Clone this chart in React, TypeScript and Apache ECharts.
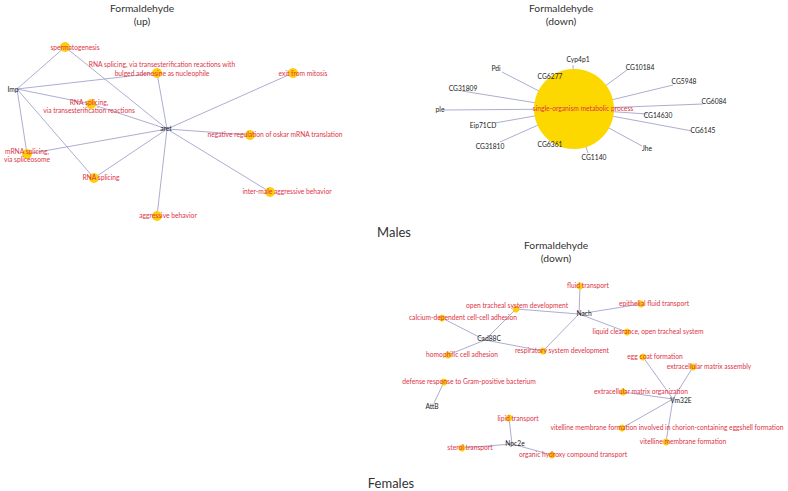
import React, { useEffect, useRef } from "react";
import * as echarts from "echarts";

// ---- data ----
// node: [id, label, kind, x, y, labelX, labelY]
type N = [string, string, string, number, number, number, number];

const MALES_UP_NODES: N[] = [
  ["Imp", "Imp", "gene", 17, 89, 13, 89],
  ["aret", "aret", "gene", 167, 129, 166, 128],
  ["sperm", "spermatogenesis", "term", 65, 47, 75, 47],
  ["bulged", "RNA splicing, via transesterification reactions with\nbulged adenosine as nucleophile", "term", 157, 73, 162, 68.5],
  ["exit", "exit from mitosis", "term", 293, 73, 303, 73],
  ["trans", "RNA splicing,\nvia transesterification reactions", "term", 91, 104, 89, 106],
  ["oskar", "negative regulation of oskar mRNA translation", "term", 250, 135, 275, 134],
  ["mrna", "mRNA splicing,\nvia spliceosome", "term", 27, 154, 27, 155],
  ["rnasp", "RNA splicing", "term", 94, 178, 101, 177],
  ["intermale", "inter-male aggressive behavior", "term", 270, 192, 287, 191],
  ["aggr", "aggressive behavior", "term", 157, 216, 168, 215],
];
const MALES_UP_EDGES: [string, string][] = [
  ["Imp", "sperm"], ["sperm", "aret"], ["Imp", "bulged"], ["bulged", "aret"],
  ["Imp", "trans"], ["trans", "aret"], ["Imp", "mrna"], ["mrna", "aret"],
  ["Imp", "rnasp"], ["rnasp", "aret"], ["aret", "exit"], ["aret", "oskar"],
  ["aret", "intermale"], ["aret", "aggr"],
];

const MALES_DOWN_NODES: N[] = [
  ["somp", "single-organism metabolic process", "big", 574, 109, 583, 108],
  ["Cyp4p1", "Cyp4p1", "gene", 573, 65, 578, 59],
  ["CG10184", "CG10184", "gene", 627, 70, 640, 67],
  ["CG5948", "CG5948", "gene", 673, 85, 684, 81],
  ["CG6084", "CG6084", "gene", 703, 104, 714, 101],
  ["CG14630", "CG14630", "gene", 647, 114, 658, 115],
  ["CG6145", "CG6145", "gene", 692, 131, 703, 130],
  ["Jhe", "Jhe", "gene", 642, 146, 647, 148],
  ["CG1140", "CG1140", "gene", 588, 153, 594, 157],
  ["CG6361", "CG6361", "gene", 550, 144, 550, 144],
  ["CG31810", "CG31810", "gene", 500, 142, 490, 146],
  ["Eip71CD", "Eip71CD", "gene", 495, 123, 483, 125],
  ["ple", "ple", "gene", 443, 110, 440, 109],
  ["CG31809", "CG31809", "gene", 462, 91, 463, 88],
  ["Pdi", "Pdi", "gene", 502, 72, 496, 68],
  ["CG6277", "CG6277", "gene", 550, 76, 550, 76],
];
const MALES_DOWN_EDGES: [string, string][] = MALES_DOWN_NODES.slice(1).map(
  (n) => ["somp", n[0]] as [string, string]
);

const FEMALES_DOWN_NODES: N[] = [
  ["Nach", "Nach", "gene", 579, 314, 584, 313],
  ["fluid", "fluid transport", "term", 580, 286, 588, 285],
  ["epi", "epithelial fluid transport", "term", 641, 304, 654, 303],
  ["otsd", "open tracheal system development", "term", 516, 309, 517, 305],
  ["liq", "liquid clearance, open tracheal system", "term", 627, 332, 648, 331],
  ["resp", "respiratory system development", "term", 543, 351, 562, 350],
  ["Cad88C", "Cad88C", "gene", 485, 340, 489, 338],
  ["calc", "calcium-dependent cell-cell adhesion", "term", 442, 318, 463, 317],
  ["homo", "homophilic cell adhesion", "term", 448, 355, 462, 354],
  ["def", "defense response to Gram-positive bacterium", "term", 444, 382, 469, 381],
  ["AttB", "AttB", "gene", 434, 403, 432, 406],
  ["lipid", "lipid transport", "term", 509, 418, 518, 418],
  ["Npc2e", "Npc2e", "gene", 512, 444, 515, 443],
  ["sterol", "sterol transport", "term", 462, 448, 470, 447],
  ["ohct", "organic hydroxy compound transport", "term", 552, 455, 573, 454],
  ["egg", "egg coat formation", "term", 643, 357, 655, 356],
  ["ecma", "extracellular matrix assembly", "term", 693, 367, 709, 366],
  ["ecmo", "extracellular matrix organization", "term", 623, 392, 641, 391],
  ["Vm32E", "Vm32E", "gene", 673, 399, 681, 400],
  ["vmfi", "vitelline membrane formation involved in chorion-containing eggshell formation", "term", 622, 428, 667, 427],
  ["vmf", "vitelline membrane formation", "term", 666, 442, 683, 441],
];
const FEMALES_DOWN_EDGES: [string, string][] = [
  ["Nach", "fluid"], ["Nach", "epi"], ["Nach", "otsd"], ["Nach", "liq"], ["Nach", "resp"],
  ["Cad88C", "otsd"], ["Cad88C", "resp"], ["Cad88C", "calc"], ["Cad88C", "homo"],
  ["AttB", "def"],
  ["Npc2e", "lipid"], ["Npc2e", "sterol"], ["Npc2e", "ohct"],
  ["Vm32E", "egg"], ["Vm32E", "ecma"], ["Vm32E", "ecmo"], ["Vm32E", "vmfi"], ["Vm32E", "vmf"],
];

const PANEL_TITLES: [string, number, number][] = [
  ["Formaldehyde\n(up)", 142, 14],
  ["Formaldehyde\n(down)", 561, 14],
  ["Formaldehyde\n(down)", 556, 251],
];
const GROUP_LABELS: [string, number, number][] = [
  ["Males", 394, 232],
  ["Females", 391, 483],
];

const FONT = "Lato, 'Open Sans', sans-serif";
const W = 788;
const H = 491;

function buildSeries(nodes: N[], edges: [string, string][], termSize: number) {
  return {
    type: "graph",
    coordinateSystem: "cartesian2d",
    silent: true,
    z: 2,
    emphasis: { disabled: true },
    edgeSymbol: ["none", "none"],
    lineStyle: { color: "#a4a4cc", width: 0.9, opacity: 1, curveness: 0 },
    data: nodes.map(([id, label, kind, x, y, lx, ly]) => {
      const isGene = kind === "gene";
      const isBig = kind === "big";
      return {
        name: id,
        value: [x, y],
        symbol: "circle",
        symbolSize: isGene ? 1 : isBig ? 80 : termSize,
        itemStyle: {
          color: isGene ? "rgba(0,0,0,0)" : isBig ? "#fdd800" : "#ffcd0e",
        },
        label: {
          show: true,
          position: "inside",
          offset: [lx - x, ly - y],
          formatter: label,
          color: isGene ? "#222222" : "#dd3346",
          fontSize: 6.7,
          lineHeight: 8.5,
          fontFamily: FONT,
          align: "center",
        },
      };
    }),
    links: edges.map(([s, t]) => ({ source: s, target: t })),
  };
}

export default function App() {
  const ref = useRef<HTMLDivElement>(null);
  useEffect(() => {
    if (!ref.current) return;
    const chart = echarts.init(ref.current, null, { renderer: "svg" });
    const graphics: any[] = [];
    PANEL_TITLES.forEach(([t, x, y]) =>
      graphics.push({
        type: "text",
        x,
        y,
        silent: true,
        style: {
          text: t,
          fill: "#333333",
          fontSize: 10.3,
          lineHeight: 13,
          fontFamily: FONT,
          textAlign: "center",
          textVerticalAlign: "middle",
        },
      })
    );
    GROUP_LABELS.forEach(([t, x, y]) =>
      graphics.push({
        type: "text",
        x,
        y,
        silent: true,
        style: {
          text: t,
          fill: "#333333",
          fontSize: 13,
          fontFamily: FONT,
          textAlign: "center",
          textVerticalAlign: "middle",
        },
      })
    );
    chart.setOption({
      animation: false,
      backgroundColor: "#ffffff",
      grid: { left: 0, right: 0, top: 0, bottom: 0 },
      xAxis: { type: "value", min: 0, max: W, show: false },
      yAxis: { type: "value", min: 0, max: H, inverse: true, show: false },
      graphic: graphics,
      series: [
        buildSeries(MALES_UP_NODES, MALES_UP_EDGES, 10),
        buildSeries(MALES_DOWN_NODES, MALES_DOWN_EDGES, 8),
        buildSeries(FEMALES_DOWN_NODES, FEMALES_DOWN_EDGES, 7),
      ],
    });
    return () => chart.dispose();
  }, []);
  return (
    <div
      ref={ref}
      style={{ position: "fixed", left: 0, top: 0, width: W, height: H }}
    />
  );
}
